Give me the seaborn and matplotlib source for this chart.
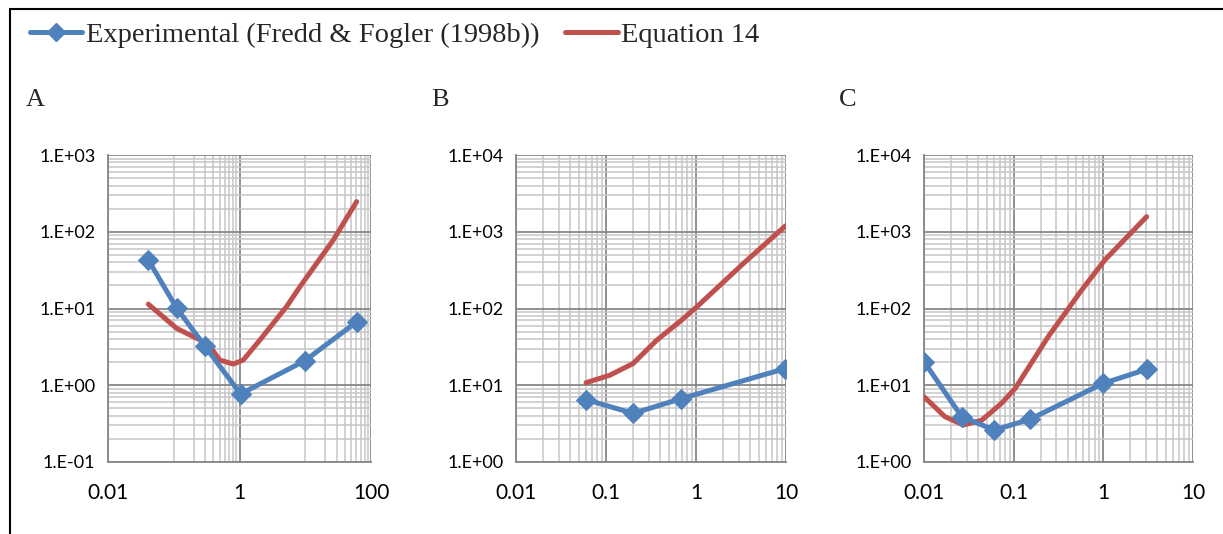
import numpy as np
import pandas as pd
import matplotlib
matplotlib.use("Agg")
import matplotlib.pyplot as plt
import matplotlib.ticker as mticker
from matplotlib.lines import Line2D
import seaborn as sns

# ---- data (log-log panels) ----
# Panel A
a_exp_x = [0.041, 0.111, 0.30, 1.04, 9.9, 60.5]
a_exp_y = [42.9, 10.1, 3.2, 0.77, 2.09, 6.7]
a_eq_x = [0.041, 0.111, 0.25, 0.356, 0.50, 0.805, 1.14, 2.05, 5.2, 8.3, 26.7, 60.5]
a_eq_y = [11.4, 5.5, 3.9, 3.2, 2.13, 1.89, 2.13, 3.9, 10.6, 19.2, 78.0, 247.0]

# Panel B
b_exp_x = [0.06, 0.20, 0.69, 9.8]
b_exp_y = [6.5, 4.3, 6.7, 16.5]
b_eq_x = [0.06, 0.11, 0.20, 0.366, 0.69, 1.02, 3.36, 9.8]
b_eq_y = [10.8, 13.5, 19.2, 38.6, 70.5, 105.0, 386.0, 1186.0]

# Panel C
c_exp_x = [0.01, 0.0263, 0.0608, 0.152, 1.0, 3.04]
c_exp_y = [20.3, 3.9, 2.61, 3.6, 10.6, 16.1]
c_eq_x = [0.01, 0.0171, 0.0275, 0.044, 0.073, 0.104, 0.243, 0.574, 1.04, 3.04]
c_eq_y = [7.1, 3.9, 3.03, 3.5, 5.8, 9.1, 43.0, 174.0, 429.0, 1571.0]

panel_names = ["A", "B", "C"]
x_limits = [(0.01, 100), (0.01, 10), (0.01, 10)]
y_limits = [(0.1, 1000), (1, 10000), (1, 10000)]

blue = "#4F81BD"
red = "#C0504D"
major_grey = "#878787"
minor_grey = "#C6C6C6"

sns.set_style("white")
plt.rcParams["font.family"] = ["Lato", "DejaVu Sans"]

fig = plt.figure(figsize=(12.23, 5.34), dpi=100)

# axes rectangles in figure fraction
rects = [
    (108 / 1223, 72 / 534, 263 / 1223, 307 / 534),
    (516 / 1223, 72 / 534, 270 / 1223, 307 / 534),
    (924 / 1223, 72 / 534, 269 / 1223, 307 / 534),
]

panels = [
    (a_exp_x, a_exp_y, a_eq_x, a_eq_y),
    (b_exp_x, b_exp_y, b_eq_x, b_eq_y),
    (c_exp_x, c_exp_y, c_eq_x, c_eq_y),
]

for i, (ex, ey, qx, qy) in enumerate(panels):
    ax = fig.add_axes(rects[i])
    ax.set_xscale("log")
    ax.set_yscale("log")

    exp_df = pd.DataFrame({"x": ex, "y": ey})
    eq_df = pd.DataFrame({"x": qx, "y": qy})

    sns.lineplot(data=eq_df, x="x", y="y", ax=ax, color=red, linewidth=3.6,
                 legend=False, zorder=3)
    sns.lineplot(data=exp_df, x="x", y="y", ax=ax, color=blue, linewidth=3.6,
                 marker="D", markersize=10, markeredgecolor=blue, legend=False,
                 zorder=4)

    ax.set_xlim(*x_limits[i])
    ax.set_ylim(*y_limits[i])
    ax.set_xlabel("")
    ax.set_ylabel("")

    # x ticks: panel A labels every second decade (Excel base 100)
    if i == 0:
        ax.xaxis.set_major_locator(mticker.FixedLocator([0.01, 1, 100]))
        ax.xaxis.set_minor_locator(mticker.FixedLocator(
            [k * 0.1 for k in range(1, 10)] + [k * 10.0 for k in range(1, 10)]))
        ax.set_xticklabels(["0.01", "1", "100"])
    else:
        ax.xaxis.set_major_locator(mticker.FixedLocator([0.01, 0.1, 1, 10]))
        ax.xaxis.set_minor_locator(mticker.LogLocator(base=10, subs=np.arange(2, 10)))
        ax.set_xticklabels(["0.01", "0.1", "1", "10"])
    ax.xaxis.set_minor_formatter(mticker.NullFormatter())

    lo, hi = y_limits[i]
    yt = [10.0 ** e for e in range(int(np.log10(lo)), int(np.log10(hi)) + 1)]
    ax.yaxis.set_major_locator(mticker.FixedLocator(yt))
    ax.yaxis.set_minor_locator(mticker.LogLocator(base=10, subs=np.arange(2, 10)))
    ax.yaxis.set_minor_formatter(mticker.NullFormatter())
    ax.set_yticklabels(["1.E%s%02d" % ("+" if np.log10(v) >= 0 else "-",
                                         abs(int(round(np.log10(v))))) for v in yt])

    ax.grid(which="major", color=major_grey, linewidth=1.3)
    ax.grid(which="minor", color=minor_grey, linewidth=1.1)
    ax.set_axisbelow(True)

    for side in ["top", "right"]:
        ax.spines[side].set_visible(False)
    for side in ["left", "bottom"]:
        ax.spines[side].set_color(major_grey)
        ax.spines[side].set_linewidth(1.3)

    ax.tick_params(axis="y", which="major", direction="out", length=6, width=1.2,
                   color=major_grey, labelsize=13, pad=3)
    ax.tick_params(axis="x", which="major", direction="out", length=6, width=1.2,
                   color=major_grey, labelsize=15, pad=9)
    ax.tick_params(which="minor", length=0)
    for lab in ax.get_yticklabels() + ax.get_xticklabels():
        lab.set_color("black")

    fig.text([35, 440, 848][i] / 1223, 1 - 100 / 534, panel_names[i],
             family="Liberation Serif", fontsize=19, ha="center", va="center")

# legend across the top
handles = [
    Line2D([], [], color=blue, linewidth=3.6, marker="D", markersize=9),
    Line2D([], [], color=red, linewidth=3.6),
]
fig.legend(handles, ["Experimental (Fredd & Fogler (1998b))", "Equation 14"],
           loc="center left", bbox_to_anchor=(4 / 1223, 1 - 35 / 534), ncol=2,
           frameon=False, handlelength=1.85, handletextpad=0.12, columnspacing=0.9,
           prop={"family": "Liberation Serif", "size": 20.5})

# frame lines (left and top) as in the source page
fig.add_artist(Line2D([10 / 1223, 10 / 1223], [0, 1 - 9 / 534], color="black",
                      linewidth=1.5, transform=fig.transFigure))
fig.add_artist(Line2D([10 / 1223, 1], [1 - 9 / 534, 1 - 9 / 534], color="black",
                      linewidth=1.5, transform=fig.transFigure))

fig.savefig("out.png", dpi=100, facecolor="white")
